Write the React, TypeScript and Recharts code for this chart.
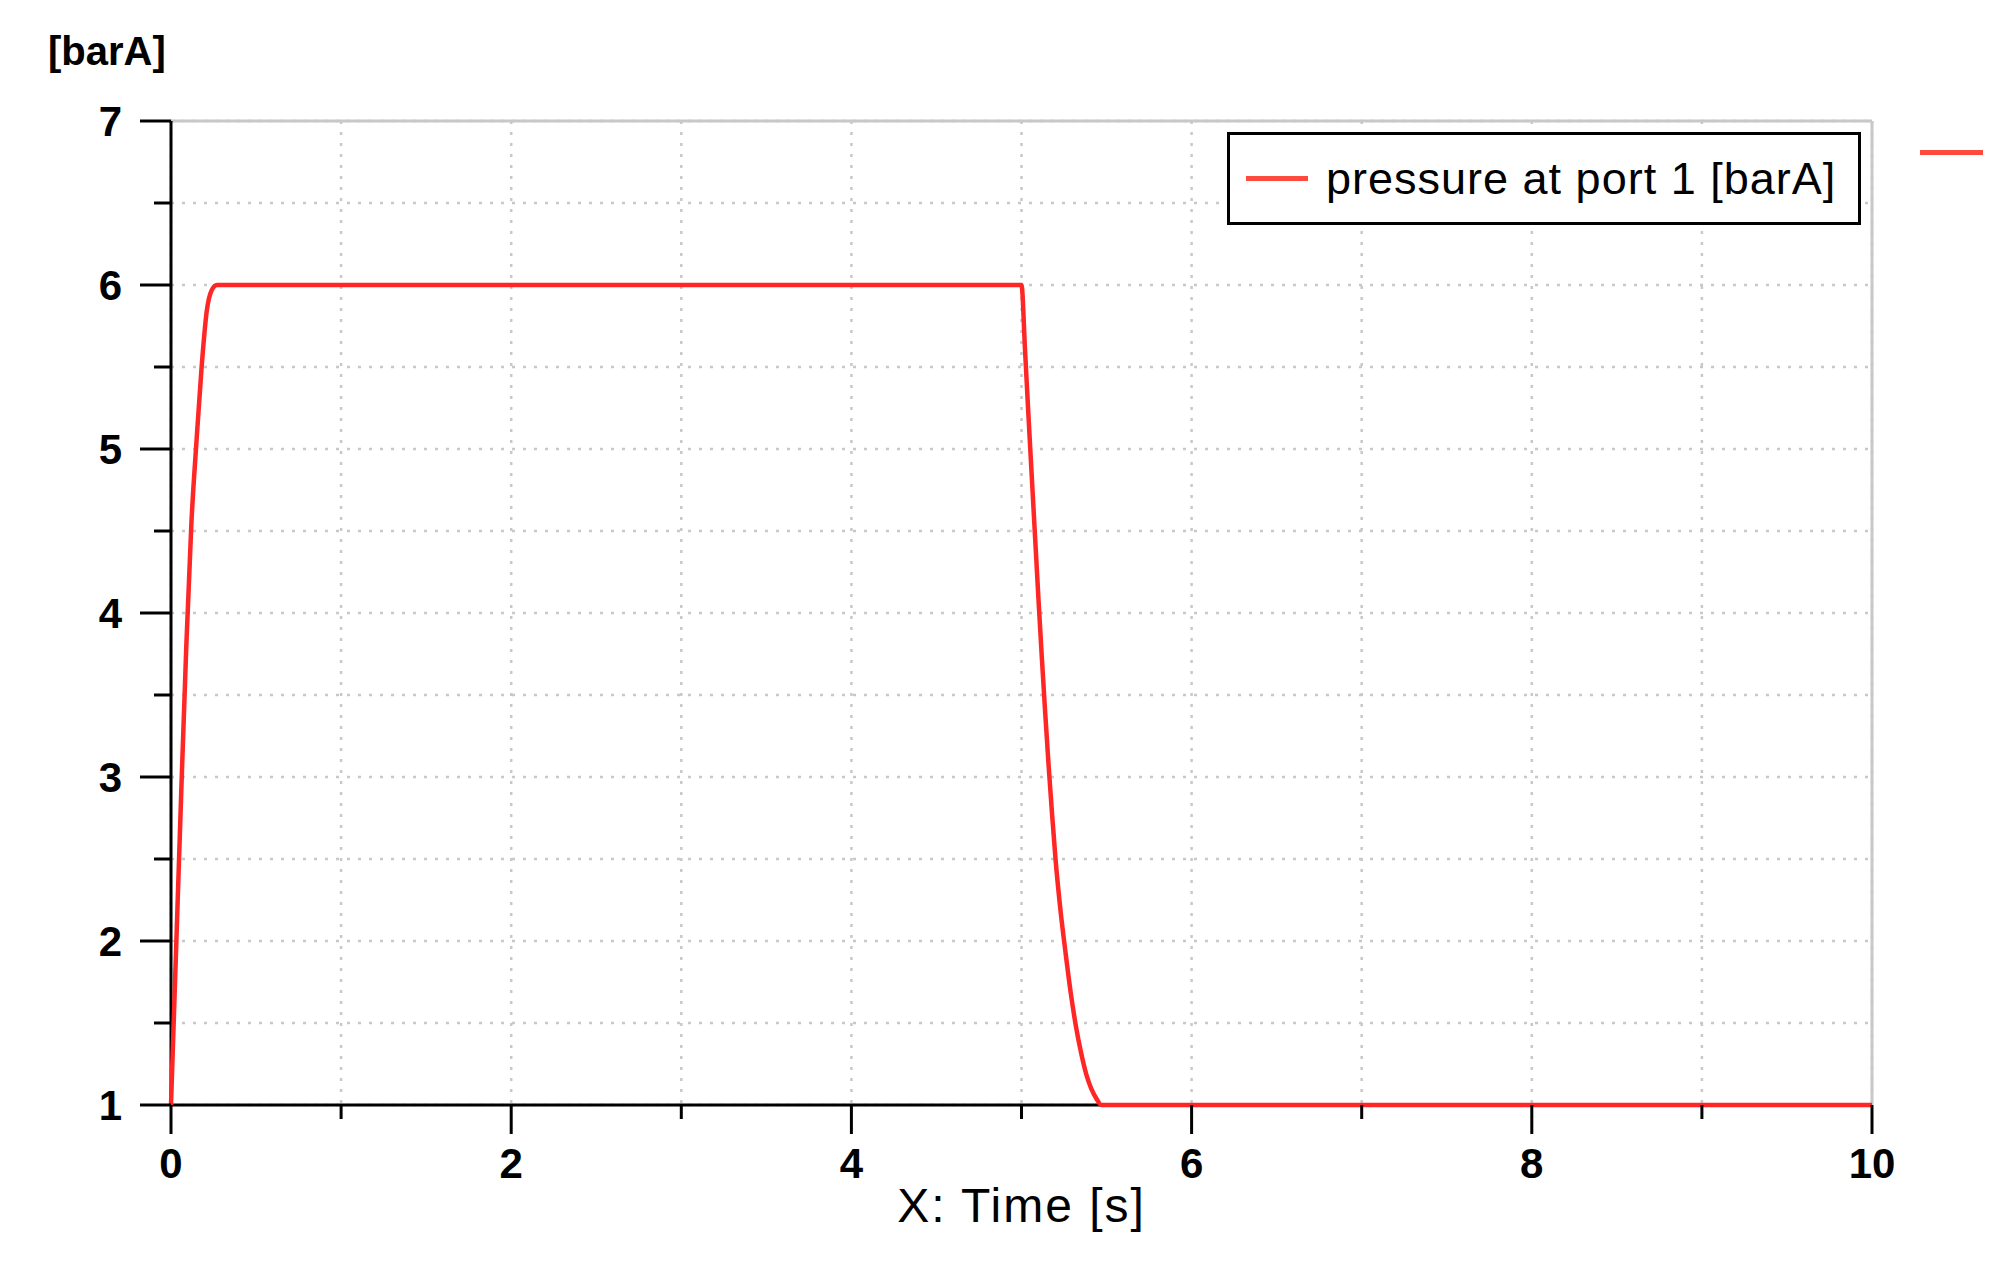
import {
  LineChart,
  Line,
  XAxis,
  YAxis,
  CartesianGrid,
  ReferenceLine,
  Legend,
  Label,
} from 'recharts';

// simulated pressure trace
const timeValues = [
  0, 0.03, 0.06, 0.09, 0.12, 0.15, 0.18, 0.21, 0.24, 0.27, 0.32,
  1, 2, 3, 4, 4.98,
  5.0, 5.02, 5.04, 5.06, 5.08, 5.1, 5.12, 5.14, 5.16, 5.18, 5.2, 5.23,
  5.26, 5.29, 5.32, 5.35, 5.38, 5.41, 5.44, 5.47,
  6, 7, 8, 9, 10,
];
const pressureValues = [
  1.0, 1.95, 2.9, 3.8, 4.55, 5.05, 5.5, 5.84, 5.97, 6.0, 6.0,
  6.0, 6.0, 6.0, 6.0, 6.0,
  6.0, 5.62, 5.22, 4.84, 4.46, 4.08, 3.72, 3.38, 3.06, 2.77, 2.5, 2.18,
  1.92, 1.68, 1.48, 1.32, 1.19, 1.1, 1.04, 1.0,
  1.0, 1.0, 1.0, 1.0, 1.0,
];
const xTicks = [0, 1, 2, 3, 4, 5, 6, 7, 8, 9, 10];
const yTicks = [1, 1.5, 2, 2.5, 3, 3.5, 4, 4.5, 5, 5.5, 6, 6.5, 7];
const seriesName = 'pressure at port 1 [barA]';

const data = timeValues.map((t, i) => ({ time: t, pressure: pressureValues[i] }));

const tickFont = "'Liberation Sans', Arial, sans-serif";
const lineColor = '#ff2626';

const XTick = (props: any) => {
  const { x, y, payload } = props;
  const major = payload.value % 2 === 0;
  return (
    <g>
      <line x1={x} x2={x} y1={y} y2={y + (major ? 29 : 14)} stroke="#000" strokeWidth={3} />
      {major && (
        <text
          x={x}
          y={y + 58}
          textAnchor="middle"
          dominantBaseline="central"
          fontFamily={tickFont}
          fontWeight="bold"
          fontSize={42}
          fill="#000"
        >
          {payload.value}
        </text>
      )}
    </g>
  );
};

const YTick = (props: any) => {
  const { x, y, payload } = props;
  const major = Number.isInteger(payload.value);
  return (
    <g>
      <line x1={x} x2={x - (major ? 31 : 17)} y1={y} y2={y} stroke="#000" strokeWidth={3} />
      {major && (
        <text
          x={x - 49}
          y={y}
          textAnchor="end"
          dominantBaseline="central"
          fontFamily={tickFont}
          fontWeight="bold"
          fontSize={42}
          fill="#000"
        >
          {payload.value}
        </text>
      )}
    </g>
  );
};

const renderLegend = () => (
  <div style={{ position: 'relative', width: 634, height: 93 }}>
    <div
      style={{
        boxSizing: 'border-box',
        width: 634,
        height: 93,
        border: '3px solid #000',
        background: '#fff',
        display: 'flex',
        alignItems: 'center',
        fontFamily: tickFont,
        fontSize: 45,
        letterSpacing: 1,
        color: '#000',
      }}
    >
      <span style={{ display: 'inline-block', width: 62, height: 5, background: '#ff4a3d', marginLeft: 16, marginRight: 18 }} />
      <span style={{ whiteSpace: 'nowrap' }}>{seriesName}</span>
    </div>
    <span
      style={{
        position: 'absolute',
        left: 693,
        top: 18,
        width: 63,
        height: 5,
        background: '#ff4a3d',
      }}
    />
  </div>
);

export default function App() {
  return (
    <div style={{ position: 'absolute', left: 0, top: 0, width: 2015, height: 1266, background: '#fff' }}>
      <LineChart
        width={2015}
        height={1266}
        data={data}
        margin={{ top: 121, right: 143, left: 0, bottom: 0 }}
      >
        <CartesianGrid
          stroke="#c8c8c8"
          strokeWidth={2.5}
          strokeDasharray="3 8"
        />
        <ReferenceLine y={7} stroke="#c8c8c8" strokeWidth={3} />
        <ReferenceLine x={10} stroke="#c8c8c8" strokeWidth={3} />
        <XAxis
          dataKey="time"
          type="number"
          domain={[0, 10]}
          ticks={xTicks}
          interval={0}
          height={161}
          tickSize={0}
          tickMargin={0}
          tickLine={false}
          axisLine={{ stroke: '#000', strokeWidth: 3 }}
          tick={<XTick />}
        >
          <Label
            content={(p: any) => {
              const vb = p.viewBox;
              return (
                <text
                  x={vb.x + vb.width / 2}
                  y={vb.y + 100}
                  textAnchor="middle"
                  dominantBaseline="central"
                  fontFamily={tickFont}
                  fontSize={48}
                  letterSpacing={2}
                  fill="#000"
                >
                  X: Time [s]
                </text>
              );
            }}
          />
        </XAxis>
        <YAxis
          type="number"
          domain={[1, 7]}
          ticks={yTicks}
          interval={0}
          width={171}
          tickSize={0}
          tickMargin={0}
          tickLine={false}
          axisLine={{ stroke: '#000', strokeWidth: 3 }}
          tick={<YTick />}
        >
          <Label
            content={(p: any) => {
              const vb = p.viewBox;
              return (
                <text
                  x={48}
                  y={vb.y - 70}
                  dominantBaseline="central"
                  fontFamily={tickFont}
                  fontWeight="bold"
                  fontSize={40}
                  fill="#000"
                >
                  [barA]
                </text>
              );
            }}
          />
        </YAxis>
        <Legend
          layout="vertical"
          align="center"
          verticalAlign="middle"
          content={renderLegend}
          wrapperStyle={{ left: 1227, top: 132, width: 634 }}
        />
        <Line
          type="monotone"
          dataKey="pressure"
          name={seriesName}
          stroke={lineColor}
          strokeWidth={4.5}
          dot={false}
          activeDot={false}
          isAnimationActive={false}
          {...({ zIndex: 600 } as any)}
        />
      </LineChart>
    </div>
  );
}
